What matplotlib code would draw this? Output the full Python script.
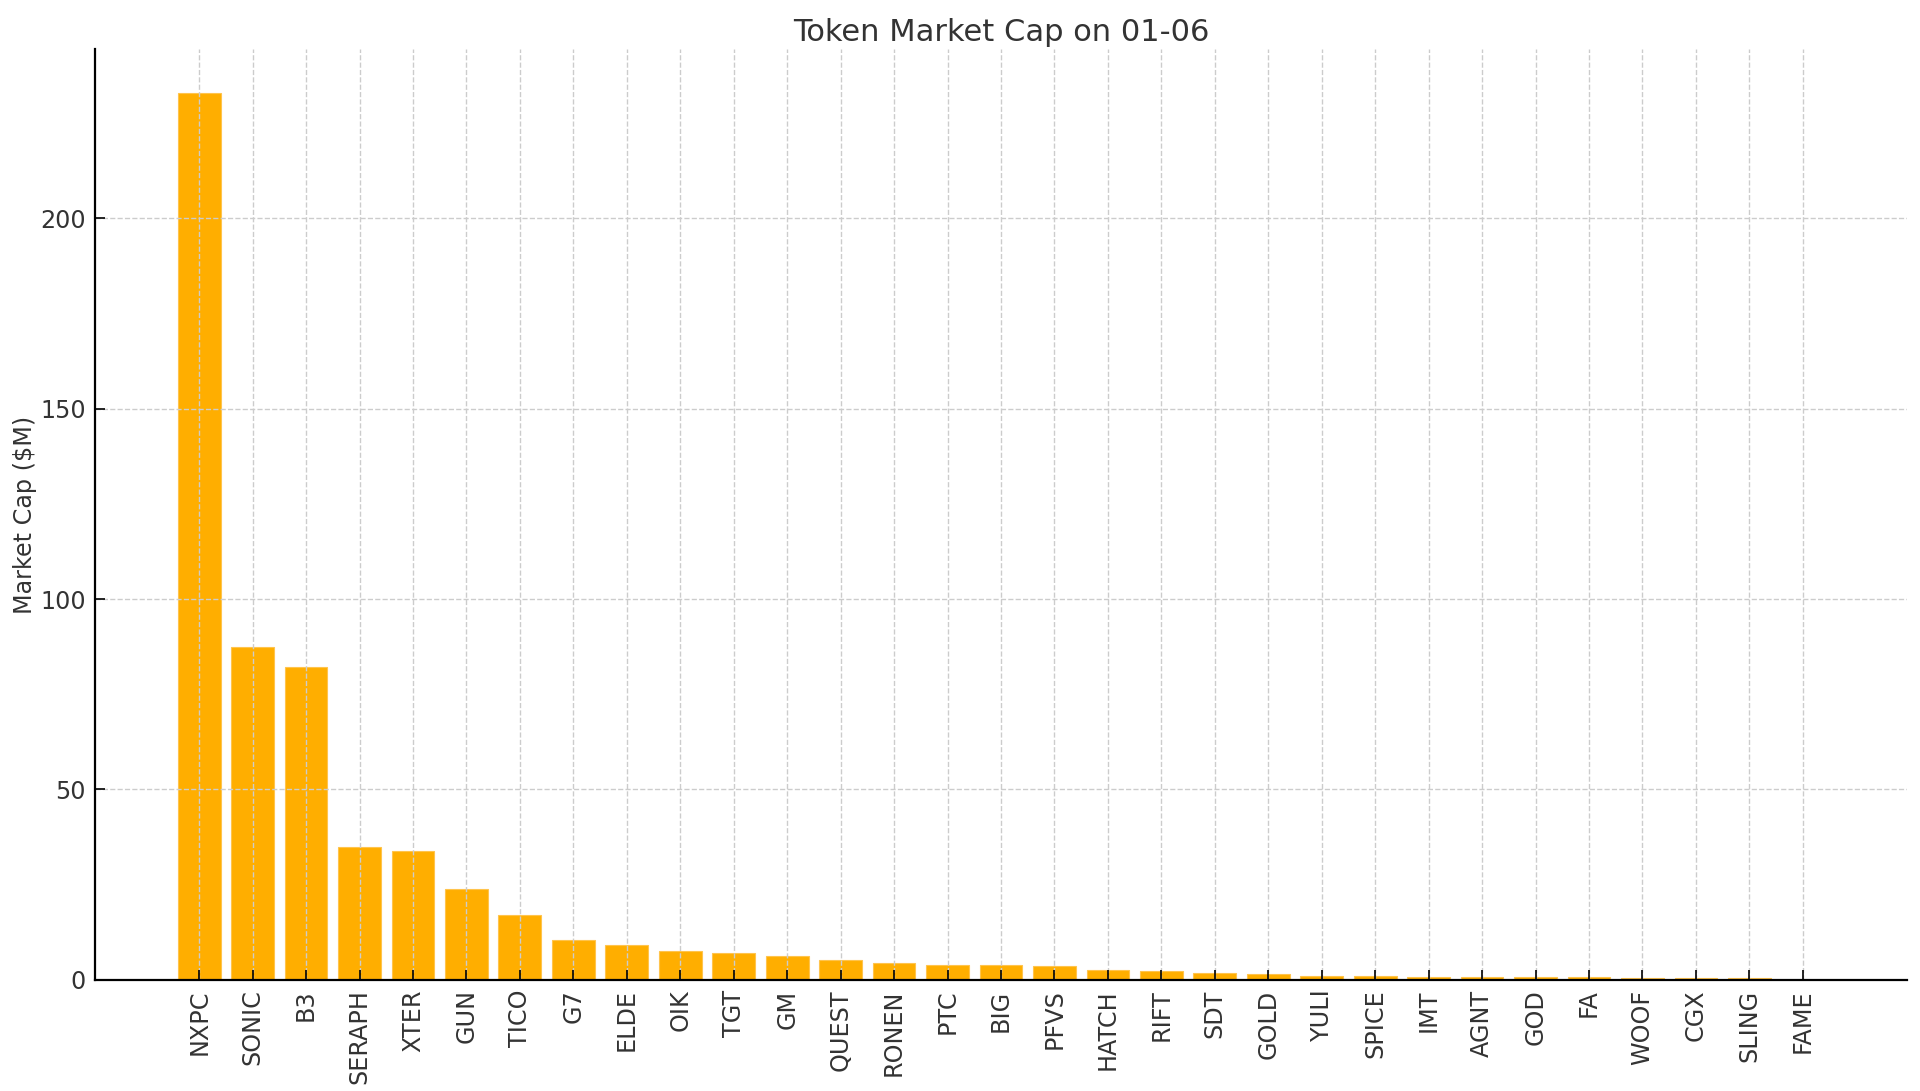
import matplotlib
matplotlib.use("Agg")
import matplotlib.pyplot as plt

# Token symbols and market cap ($M)
tokens = ["NXPC", "SONIC", "B3", "SERAPH", "XTER", "GUN", "TICO", "G7", "ELDE", "OIK",
          "TGT", "GM", "QUEST", "RONEN", "PTC", "BIG", "PFVS", "HATCH", "RIFT", "SDT",
          "GOLD", "YULI", "SPICE", "IMT", "AGNT", "GOD", "FA", "WOOF", "CGX", "SLING", "FAME"]
market_cap = [232.8, 87.3, 82.2, 34.8, 33.9, 23.8, 17.1, 10.5, 9.2, 7.6,
              7.1, 6.3, 5.1, 4.5, 3.9, 3.8, 3.6, 2.6, 2.4, 1.7,
              1.5, 1.05, 0.88, 0.72, 0.72, 0.72, 0.72, 0.35, 0.35, 0.35, 0.05]

TEXT = "#333333"

fig = plt.figure(figsize=(9.6, 5.455), dpi=200)
ax = fig.add_subplot(111)
fig.subplots_adjust(left=0.0497, right=0.993, top=0.955, bottom=0.102)

ax.bar(tokens, market_cap, color="#FFAE00", edgecolor="#FFC44D", linewidth=0.4)

ax.set_title("Token Market Cap on 01-06", fontsize=11, color=TEXT, pad=3)
ax.set_ylabel("Market Cap ($M)", fontsize=8.6, color=TEXT, labelpad=1)

ax.grid(True, linestyle="--", color="#cccccc", linewidth=0.5)
ax.spines["top"].set_visible(False)
ax.spines["right"].set_visible(False)
ax.spines["left"].set_linewidth(0.8)
ax.spines["bottom"].set_linewidth(0.8)
ax.tick_params(axis="both", direction="in", labelsize=8.6, labelcolor=TEXT, length=3.5, width=0.6)
ax.tick_params(axis="x", rotation=90)

plt.savefig("out.png", dpi=200)
